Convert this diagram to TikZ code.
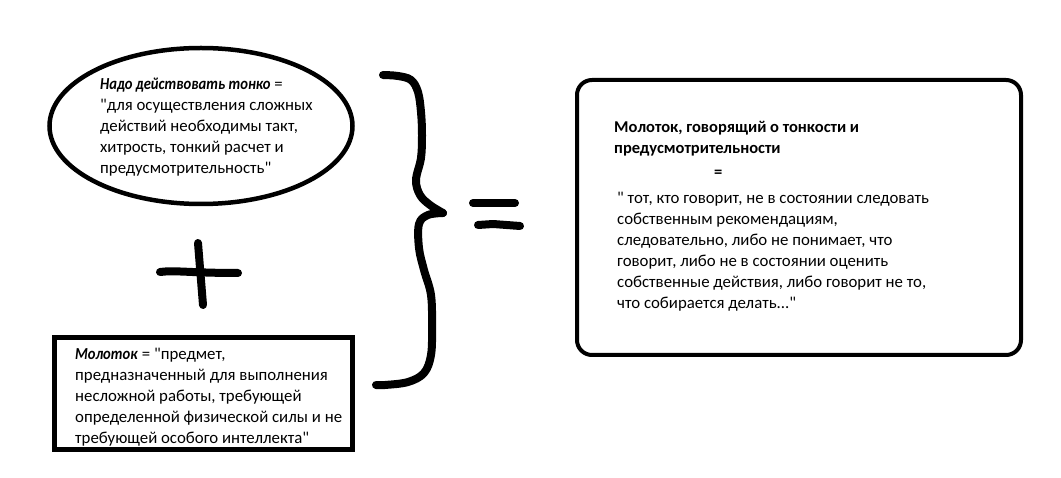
\documentclass[tikz,border=0pt]{standalone}
\usepackage{fontspec}
\setmainfont{Carlito}[Ligatures=TeXOff, BoldItalicFeatures={FakeStretch=0.87}]
\usetikzlibrary{shapes.geometric}
\begin{document}
\begin{tikzpicture}[x=1pt,y=-1pt,
  txt/.style={anchor=north west, inner sep=0pt, align=left, font=\fontsize{16.8}{21}\selectfont},
  stroke/.style={line width=8pt, line cap=round, line join=round}]
\useasboundingbox[fill=white] (0,0) rectangle (1061,478);
% shapes
\node[draw, ellipse, line width=4.5pt, minimum width=303pt, minimum height=156pt, inner sep=0pt] (ell) at (201,126) {};
\node[draw, line width=5pt, minimum width=298pt, minimum height=112pt, inner sep=0pt] (rect) at (203.5,393.5) {};
\node[draw, line width=4pt, rounded corners=15pt, minimum width=444pt, minimum height=275pt, inner sep=0pt] (rbox) at (799,217.5) {};
% texts
\node[txt] (etext) at (100,78) {\textbf{\textit{Надо действовать тонко}} =\\
"для осуществления сложных\\
действий необходимы такт,\\
хитрость, тонкий расчет и\\
предусмотрительность"};
\node[txt] (rtext) at (75,348) {\textbf{\textit{Молоток}} = "предмет,\\
предназначенный для выполнения\\
несложной работы, требующей\\
определенной физической силы и не\\
требующей особого интеллекта"};
\node[txt, font=\bfseries\fontsize{16.5}{21}\selectfont] (title) at (614,121) {Молоток, говорящий о тонкости и\\предусмотрительности};
\node[txt, font=\bfseries\fontsize{16.5}{21}\selectfont] (eqsign) at (714,170) {=};
\node[txt] (body) at (617,192) {" тот, кто говорит, не в состоянии следовать\\
собственным рекомендациям,\\
следовательно, либо не понимает, что\\
говорит, либо не в состоянии оценить\\
собственные действия, либо говорит не то,\\
что собирается делать..."};
% plus
\draw[stroke] (198,243) -- (203,305);
\draw[stroke] (160,272) .. controls (175,270) and (190,273) .. (238,273);
% brace
\draw[stroke] plot[smooth, tension=0.6] coordinates {(383,75) (398,76) (411,80) (418,92) (421,112) (422,135) (421,158) (416,180) (420,195) (430,205) (443,213)};
\draw[stroke] plot[smooth, tension=0.6] coordinates {(443,213) (428,215) (419,224) (419,248) (424,270) (431,295) (432,327) (431,355) (424,373) (408,382) (385,385) (376,385)};
% equals
\draw[stroke] (473,203) -- (515,203);
\draw[stroke] (478,225) -- (493,224) -- (520,226);
\end{tikzpicture}
\end{document}
